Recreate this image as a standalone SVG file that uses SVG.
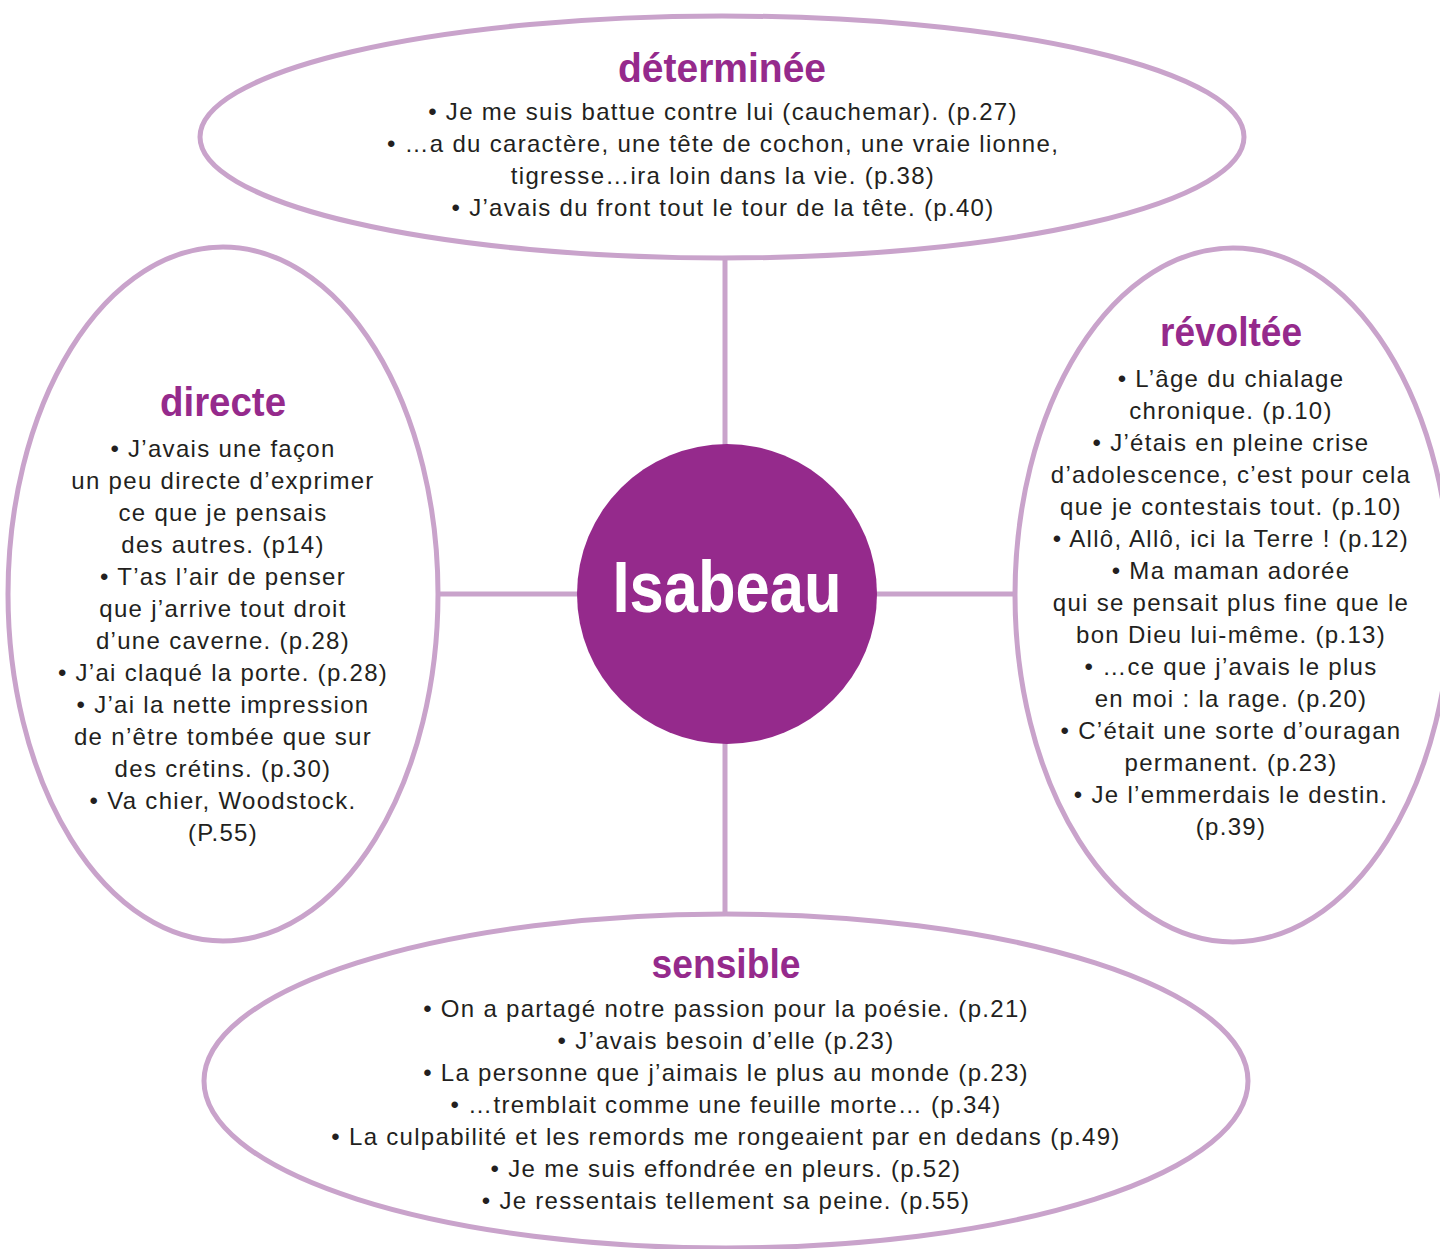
<svg xmlns="http://www.w3.org/2000/svg" width="1440" height="1249" viewBox="0 0 1440 1249">
<style>
.conn{stroke:#c9a3cb;stroke-width:5;fill:none}
.bub{stroke:#c9a3cb;stroke-width:5;fill:#ffffff}
.title{font-family:"Liberation Sans",Arial,sans-serif;font-weight:bold;font-size:40px;fill:#952a8c;text-anchor:middle}
.body{font-family:"Liberation Sans",Arial,sans-serif;font-size:24px;letter-spacing:1.3px;fill:#231f20;text-anchor:middle}
.center{font-family:"Liberation Sans",Arial,sans-serif;font-size:72px;font-weight:bold;fill:#ffffff;text-anchor:middle}
</style>
<rect width="1440" height="1249" fill="#ffffff"/>
<g id="connectors">
<line class="conn" x1="725" y1="255" x2="725" y2="450"/>
<line class="conn" x1="725" y1="740" x2="725" y2="916"/>
<line class="conn" x1="436" y1="594" x2="580" y2="594"/>
<line class="conn" x1="872" y1="594" x2="1018" y2="594"/>
</g>
<g id="node-determinee">
<ellipse class="bub" cx="722" cy="137" rx="522" ry="121"/>
<text class="title" x="722" y="82" textLength="208" lengthAdjust="spacingAndGlyphs">déterminée</text>
<text class="body" x="723" y="120">• Je me suis battue contre lui (cauchemar). (p.27)</text>
<text class="body" x="723" y="152">• …a du caractère, une tête de cochon, une vraie lionne,</text>
<text class="body" x="723" y="184">tigresse…ira loin dans la vie. (p.38)</text>
<text class="body" x="723" y="216">• J’avais du front tout le tour de la tête. (p.40)</text>
</g>
<g id="node-directe">
<ellipse class="bub" cx="223" cy="594" rx="215" ry="347"/>
<text class="title" x="223" y="416" textLength="126" lengthAdjust="spacingAndGlyphs">directe</text>
<text class="body" x="223" y="457">• J’avais une façon</text>
<text class="body" x="223" y="489">un peu directe d’exprimer</text>
<text class="body" x="223" y="521">ce que je pensais</text>
<text class="body" x="223" y="553">des autres. (p14)</text>
<text class="body" x="223" y="585">• T’as l’air de penser</text>
<text class="body" x="223" y="617">que j’arrive tout droit</text>
<text class="body" x="223" y="649">d’une caverne. (p.28)</text>
<text class="body" x="223" y="681">• J’ai claqué la porte. (p.28)</text>
<text class="body" x="223" y="713">• J’ai la nette impression</text>
<text class="body" x="223" y="745">de n’être tombée que sur</text>
<text class="body" x="223" y="777">des crétins. (p.30)</text>
<text class="body" x="223" y="809">• Va chier, Woodstock.</text>
<text class="body" x="223" y="841">(P.55)</text>
</g>
<g id="node-revoltee">
<ellipse class="bub" cx="1233" cy="595" rx="218" ry="347"/>
<text class="title" x="1231" y="346" textLength="142" lengthAdjust="spacingAndGlyphs">révoltée</text>
<text class="body" x="1231" y="387">• L’âge du chialage</text>
<text class="body" x="1231" y="419">chronique. (p.10)</text>
<text class="body" x="1231" y="451">• J’étais en pleine crise</text>
<text class="body" x="1231" y="483">d’adolescence, c’est pour cela</text>
<text class="body" x="1231" y="515">que je contestais tout. (p.10)</text>
<text class="body" x="1231" y="547">• Allô, Allô, ici la Terre ! (p.12)</text>
<text class="body" x="1231" y="579">• Ma maman adorée</text>
<text class="body" x="1231" y="611">qui se pensait plus fine que le</text>
<text class="body" x="1231" y="643">bon Dieu lui-même. (p.13)</text>
<text class="body" x="1231" y="675">• …ce que j’avais le plus</text>
<text class="body" x="1231" y="707">en moi : la rage. (p.20)</text>
<text class="body" x="1231" y="739">• C’était une sorte d’ouragan</text>
<text class="body" x="1231" y="771">permanent. (p.23)</text>
<text class="body" x="1231" y="803">• Je l’emmerdais le destin.</text>
<text class="body" x="1231" y="835">(p.39)</text>
</g>
<g id="node-sensible">
<ellipse class="bub" cx="726" cy="1081" rx="522" ry="167"/>
<text class="title" x="726" y="978" textLength="149" lengthAdjust="spacingAndGlyphs">sensible</text>
<text class="body" x="726" y="1017">• On a partagé notre passion pour la poésie. (p.21)</text>
<text class="body" x="726" y="1049">• J’avais besoin d’elle (p.23)</text>
<text class="body" x="726" y="1081">• La personne que j’aimais le plus au monde (p.23)</text>
<text class="body" x="726" y="1113">• …tremblait comme une feuille morte… (p.34)</text>
<text class="body" x="726" y="1145">• La culpabilité et les remords me rongeaient par en dedans (p.49)</text>
<text class="body" x="726" y="1177">• Je me suis effondrée en pleurs. (p.52)</text>
<text class="body" x="726" y="1209">• Je ressentais tellement sa peine. (p.55)</text>
</g>
<g id="node-isabeau">
<circle cx="727" cy="594" r="150" fill="#952a8c"/>
<text class="center" x="727" y="612" textLength="229" lengthAdjust="spacingAndGlyphs">Isabeau</text>
</g>
</svg>
